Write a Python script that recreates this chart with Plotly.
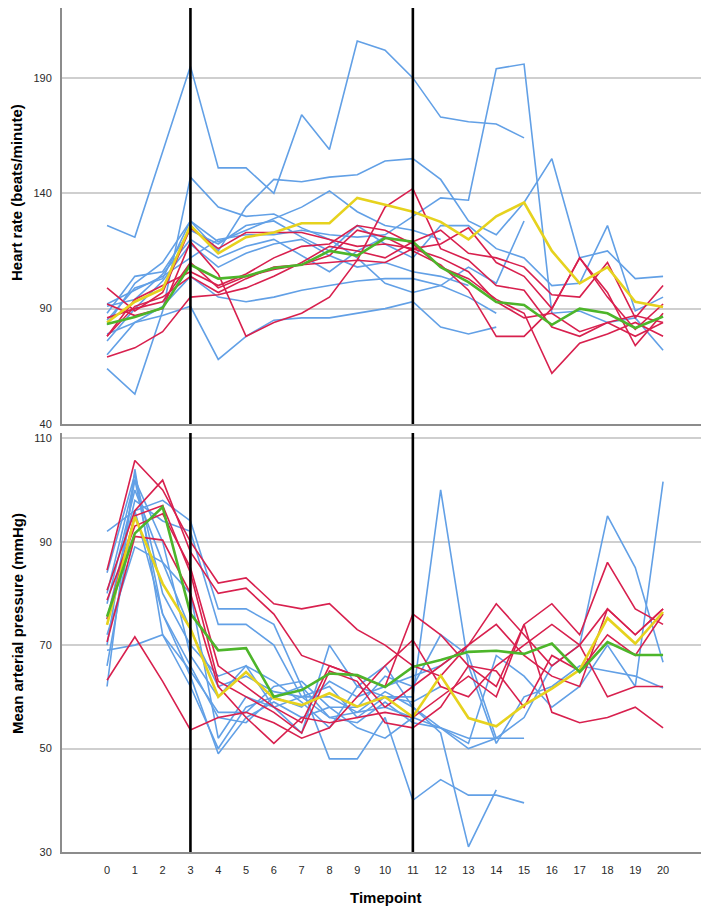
import plotly.graph_objects as go

timepoints = list(range(21))
phase_lines = [3, 11]

# Heart rate (beats/minute) - individual patients (blue / red groups) and group means
hr_blue = [
    [126, 121, 158, 195, 151, 151, 140, 174, 159, 206, 202, 190, 173, 171, 170, 164],
    [64, 53, 89, 147, 134, 130, 131, 125, 120, 112, 101, 97, 100, 108, 101, 128],
    [83, 101, 110, 128, 115, 134, 146, 145, 147, 148, 154, 155, 146, 128, 122, 136, 155, 112, 115, 103, 104],
    [88, 104, 106, 124, 118, 126, 128, 121, 115, 126, 118, 112, 126, 126, 116, 112, 100, 101, 126, 89, 95],
    [92, 98, 104, 112, 120, 122, 122, 124, 122, 121, 122, 130, 138, 137, 194, 196, 88, 89, 84, 86, 72],
    [79, 84, 87, 91, 68, 78, 85, 86, 86, 88, 90, 93, 82, 79, 82],
    [70, 84, 91, 104, 95, 93, 95, 98, 100, 102, 103, 103, 100, 95, 88],
    [76, 90, 102, 118, 108, 114, 118, 120, 113, 108, 110, 106, 104, 100],
    [85, 99, 103, 128, 119, 124, 129, 134, 141, 132, 126, 124, 120],
    [91, 94, 105, 120, 112, 117, 120, 113, 106, 115, 121, 119],
]
hr_red = [
    [99, 89, 97, 125, 116, 123, 123, 123, 120, 117, 118, 116, 118, 125, 110, 104, 90, 112, 95, 81, 92],
    [92, 87, 90, 119, 105, 78, 84, 88, 95, 111, 134, 142, 116, 111, 100, 98, 82, 78, 84, 87, 84],
    [78, 94, 100, 106, 100, 105, 112, 117, 118, 126, 124, 118, 108, 103, 94, 88, 62, 75, 79, 84, 78],
    [69, 73, 80, 95, 96, 99, 104, 110, 117, 115, 112, 119, 124, 114, 112, 108, 96, 95, 110, 86, 100],
    [78, 91, 95, 104, 97, 103, 108, 109, 113, 124, 121, 115, 109, 98, 78, 78, 90, 112, 97, 74, 88],
    [86, 90, 93, 110, 99, 104, 107, 109, 110, 111, 110, 116, 112, 106, 93, 86, 88, 80, 84, 78, 84],
]
hr_yellow = [84, 93, 98.5, 126, 114, 121, 123, 127, 127, 138, 135, 132, 127.6, 120, 130, 136, 115, 101, 108, 93, 90.7]
hr_green = [83.3, 86.4, 90.3, 109, 103, 104, 107.6, 109, 115, 113, 120.6, 119, 108, 101.5, 92.9, 91.6, 83, 90, 88, 81.6, 86.6]

# Mean arterial pressure (mmHg)
map_blue = [
    [92, 96, 98, 94, 77, 77, 74, 62, 56, 55, 59, 55, 54, 52, 52, 52],
    [62, 104, 72, 62, 50, 58, 60, 62, 48, 48, 56, 40, 44, 41, 41, 39.5],
    [69, 70, 72, 65, 57, 57, 62, 63, 58, 58, 64, 62, 72, 68, 52, 56, 66, 70, 95, 85, 66.7],
    [70, 102, 90, 68, 60, 66, 58, 53, 70, 62, 66, 58, 54, 51, 68, 64, 58, 62, 70, 62, 101.6],
    [78, 100, 86, 73, 62, 64, 61, 60, 62, 56, 60, 60, 100, 66, 51, 60, 62, 66, 65, 64, 61.7],
    [72, 89, 86, 80, 52, 60, 58, 60, 60, 57, 61, 58, 53, 31, 42],
    [66, 96, 76, 64, 49, 56, 59, 56, 58, 54, 52, 56, 54, 50, 52],
    [80, 102, 76, 66, 56, 55, 60, 58, 63, 60, 62, 64, 66, 70],
    [84, 103, 80, 70, 64, 66, 63, 59, 54, 62, 60, 59, 62],
    [75, 98, 94, 92, 74, 74, 70, 60, 56, 57, 58, 56],
]
map_red = [
    [84.5, 105.7, 100, 90, 82, 83, 78, 77, 78, 73, 70, 66, 64, 70, 78, 72, 66, 70, 77, 72, 77],
    [80.6, 96, 101.9, 88, 80, 81, 76, 68, 66, 64, 62, 76, 72, 66, 62, 74, 78, 72, 86, 77, 74],
    [78.7, 93, 95.4, 85, 66, 62, 58, 55, 66, 64, 58, 62, 66, 70, 74, 68, 64, 62, 77, 72, 77],
    [70.6, 91, 90.3, 80, 62, 56, 51, 56, 55, 56, 57, 56, 60, 64, 60, 74, 57, 55, 56, 58, 54],
    [63.2, 71.6, 63, 53.6, 56, 57, 55, 52, 54, 60, 66, 71, 62, 60, 66, 70, 74, 70, 60, 62, 62],
    [75, 95, 97, 84, 63, 60, 57, 53, 65, 63, 55, 54, 58, 66, 65, 58, 68, 65, 72, 68, 76],
]
map_yellow = [73.9, 94.8, 81.9, 73.2, 60, 64.8, 59.7, 58.4, 60.7, 58.1, 60, 56.1, 64.1, 55.9, 54.3, 58.4, 61.6, 65.2, 75.2, 70.3, 76.4]
map_green = [75.5, 91.6, 96.7, 76.1, 69, 69.4, 60, 61.3, 64.5, 64.2, 61.9, 65.8, 67.1, 68.7, 68.9, 68.3, 70.3, 64.8, 70.6, 68.1, 68.1]

hr_ticks = [40, 90, 140, 190]
map_ticks = [30, 50, 70, 90, 110]

BLUE = "#62A0E6"
RED = "#D8204E"
YELLOW = "#E6D21E"
GREEN = "#4DB52A"

fig = go.Figure()

def add_group(series_list, color, width, xa, ya):
    for s in series_list:
        fig.add_trace(go.Scatter(x=timepoints[:len(s)], y=s, mode="lines",
                                 line=dict(color=color, width=width),
                                 xaxis=xa, yaxis=ya, showlegend=False, hoverinfo="skip"))

add_group(hr_blue, BLUE, 1.6, "x2", "y2")
add_group(hr_red, RED, 1.6, "x2", "y2")
add_group([hr_yellow], YELLOW, 2.6, "x2", "y2")
add_group([hr_green], GREEN, 2.6, "x2", "y2")

add_group(map_blue, BLUE, 1.6, "x", "y")
add_group(map_red, RED, 1.6, "x", "y")
add_group([map_yellow], YELLOW, 2.6, "x", "y")
add_group([map_green], GREEN, 2.6, "x", "y")

shapes = []
for xv in phase_lines:
    for xr, yr in (("x", "y domain"), ("x2", "y2 domain")):
        shapes.append(dict(type="line", xref=xr, yref=yr, x0=xv, x1=xv, y0=0, y1=1,
                           line=dict(color="black", width=2.6), layer="above"))

xrange = [-1.62, 21.58]
FAM = "Liberation Sans, Arial, sans-serif"
font_tick = dict(family=FAM, size=11, color="#2a2a2a")
font_title = dict(family=FAM, size=15, color="black")

annotations = [
    dict(text="<b>Heart rate (beats/minute)</b>", xref="paper", yref="paper", x=-0.0698, y=0.782,
         textangle=-90, showarrow=False, font=font_title, xanchor="center", yanchor="middle"),
    dict(text="<b>Mean arterial pressure (mmHg)</b>", xref="paper", yref="paper", x=-0.0698, y=0.2713,
         textangle=-90, showarrow=False, font=font_title, xanchor="center", yanchor="middle"),
    dict(text="<b>Timepoint</b>", xref="paper", yref="paper", x=0.5008, y=-0.0545,
         showarrow=False, font=font_title, xanchor="center", yanchor="middle"),
]

axis_common = dict(showgrid=False, zeroline=False, showline=True, linecolor="#8c8c8c", linewidth=2,
                   automargin=False)

fig.update_layout(
    width=701, height=902,
    margin=dict(l=54, r=2, t=0, b=58),
    paper_bgcolor="white", plot_bgcolor="white",
    showlegend=False,
    shapes=shapes,
    annotations=annotations,
    xaxis=dict(domain=[0, 1], range=xrange, anchor="y", tickmode="array",
               tickvals=timepoints, ticktext=[str(t) for t in timepoints],
               ticks="outside", ticklen=7, tickcolor="rgba(0,0,0,0)", tickfont=font_tick,
               **axis_common),
    yaxis=dict(domain=[0, 0.4964], range=[30, 111], tickmode="array", tickvals=map_ticks,
               ticks="outside", ticklen=6, tickcolor="rgba(0,0,0,0)", tickfont=font_tick,
               **{**axis_common, "showgrid": True}, gridcolor="#cfcfcf", gridwidth=2),
    xaxis2=dict(domain=[0, 1], range=xrange, anchor="y2", showticklabels=False, **axis_common),
    yaxis2=dict(domain=[0.5071, 1], range=[40, 220.3], anchor="x2", tickmode="array", tickvals=hr_ticks,
                ticks="outside", ticklen=6, tickcolor="rgba(0,0,0,0)", tickfont=font_tick,
                **{**axis_common, "showgrid": True}, gridcolor="#cfcfcf", gridwidth=2),
)

fig.write_html("out.html")
